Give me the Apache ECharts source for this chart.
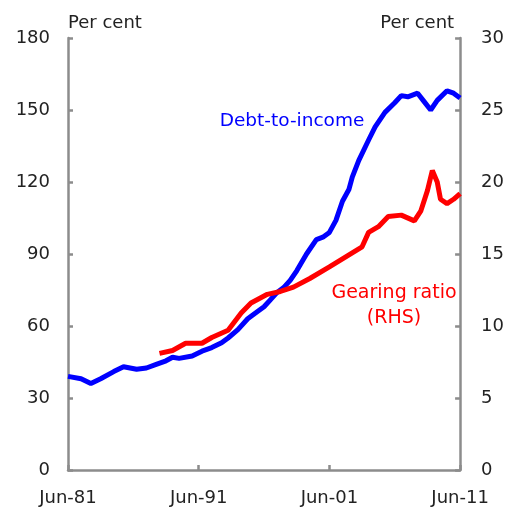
<!DOCTYPE html>
<html><head><meta charset="utf-8">
<script src="https://cdn.jsdelivr.net/npm/echarts@6/dist/echarts.min.js"></script>
<style>html,body{margin:0;padding:0;background:#fff}#c{width:507px;height:508px}</style>
</head><body><div id="c"></div>
<script>
// x = quarters since Jun-81
var xTickLabels = ['Jun-81', 'Jun-91', 'Jun-01', 'Jun-11'];
var debtQ = [0, 4, 7, 10, 14, 17, 21, 24, 27, 30, 32, 34, 38, 41, 44, 47, 49, 52, 55, 58, 60, 62, 64, 66, 68, 70, 73, 76, 78, 80, 82, 84, 86, 87, 89, 92, 94, 97, 100, 102, 104, 107, 109, 111, 113, 116, 118, 120];
var debtV = [39, 38, 36, 38, 41, 43, 42, 42.5, 44, 45.5, 47, 46.5, 47.5, 49.5, 51, 53, 55, 58.5, 63, 66, 68, 71, 74, 76, 79, 83, 90, 96, 97, 99, 104, 112, 117, 122, 129, 137.5, 143, 149, 153, 156, 155.5, 157, 153.5, 150, 154, 158, 157, 155];
var gearQ = [28, 32, 36, 41, 44, 49, 53, 56, 61, 65, 69, 74, 80, 85, 90, 92, 95, 98, 102, 106, 108, 110, 111.5, 113, 114, 116, 118, 120];
var gearV = [8.1, 8.3, 8.8, 8.8, 9.2, 9.7, 10.9, 11.6, 12.2, 12.4, 12.7, 13.3, 14.1, 14.8, 15.5, 16.5, 16.9, 17.6, 17.7, 17.3, 18.0, 19.4, 20.8, 20.0, 18.8, 18.5, 18.8, 19.2];

function pairs(xs, ys) { return xs.map(function (x, i) { return [x, ys[i]]; }); }

var font = '"DejaVu Sans", Arial, sans-serif';
var txtCol = '#222';
var axisCol = '#8c8c8c';
var chart = echarts.init(document.getElementById('c'));
chart.setOption({
  animation: false,
  textStyle: { fontFamily: font },
  grid: { left: 68, right: 46, top: 38, bottom: 38 },
  xAxis: {
    type: 'value', min: 0, max: 120, interval: 40,
    axisLine: { show: true, lineStyle: { color: axisCol, width: 2.5 } },
    axisTick: { show: true, inside: true, length: 5, lineStyle: { color: axisCol, width: 2.5 } },
    splitLine: { show: false },
    axisLabel: {
      margin: 19, color: txtCol, fontSize: 18, fontFamily: font,
      formatter: function (v) { return xTickLabels[Math.round(v / 40)] || ''; }
    }
  },
  yAxis: [{
    type: 'value', min: 0, max: 180, interval: 30, position: 'left',
    name: 'Per cent', nameLocation: 'end', nameGap: 6,
    nameTextStyle: { align: 'left', color: txtCol, fontSize: 18, fontFamily: font },
    axisLine: { show: true, lineStyle: { color: axisCol, width: 2.5 } },
    axisTick: { show: true, inside: true, length: 5, lineStyle: { color: axisCol, width: 2.5 } },
    splitLine: { show: false },
    axisLabel: { margin: 18, color: txtCol, fontSize: 18, fontFamily: font }
  }, {
    type: 'value', min: 0, max: 30, interval: 5, position: 'right',
    name: 'Per cent', nameLocation: 'end', nameGap: 6,
    nameTextStyle: { align: 'right', color: txtCol, fontSize: 18, fontFamily: font, padding: [0, 6, 0, 0] },
    axisLine: { show: true, lineStyle: { color: axisCol, width: 2.5 } },
    axisTick: { show: true, inside: true, length: 5, lineStyle: { color: axisCol, width: 2.5 } },
    splitLine: { show: false },
    axisLabel: { margin: 21, color: txtCol, fontSize: 18, fontFamily: font }
  }],
  series: [{
    name: 'Debt-to-income', type: 'line', yAxisIndex: 0, showSymbol: false,
    data: pairs(debtQ, debtV),
    lineStyle: { color: '#0000ff', width: 5 }, itemStyle: { color: '#0000ff' }, z: 2
  }, {
    name: 'Gearing ratio (RHS)', type: 'line', yAxisIndex: 1, showSymbol: false,
    data: pairs(gearQ, gearV),
    lineStyle: { color: '#ff0000', width: 5 }, itemStyle: { color: '#ff0000' }, z: 3
  }],
  graphic: [
    { type: 'text', x: 292, y: 121, style: { text: 'Debt-to-income', fill: '#0000ff', font: '18.5px ' + font, align: 'center', verticalAlign: 'middle', textAlign: 'center', textVerticalAlign: 'middle' } },
    { type: 'text', x: 394, y: 293, style: { text: 'Gearing ratio', fill: '#ff0000', font: '19px ' + font, align: 'center', verticalAlign: 'middle', textAlign: 'center', textVerticalAlign: 'middle' } },
    { type: 'text', x: 394, y: 318, style: { text: '(RHS)', fill: '#ff0000', font: '19px ' + font, align: 'center', verticalAlign: 'middle', textAlign: 'center', textVerticalAlign: 'middle' } }
  ]
});
</script></body></html>
